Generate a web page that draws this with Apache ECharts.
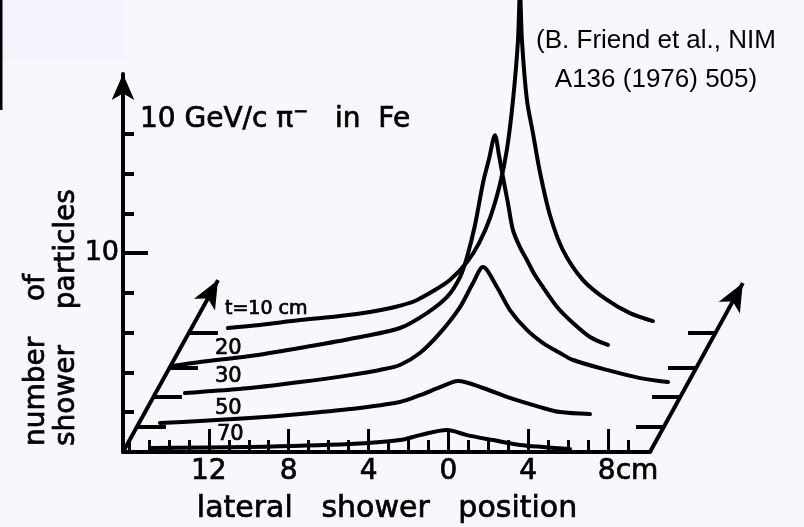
<!DOCTYPE html>
<html>
<head>
<meta charset="utf-8">
<script src="https://cdn.jsdelivr.net/npm/echarts@6/dist/echarts.min.js"></script>
<style>
  html, body { margin: 0; padding: 0; background: #f7f7fd; }
  #chart { width: 804px; height: 527px; }
</style>
</head>
<body>
<div id="chart"></div>
<script>
// ---------------- DATA ----------------
// depth in the iron (cm); one lateral profile per depth
const depths = ['10', '20', '30', '50', '70'];

// lateral shower position (cm) and number of shower particles, per depth
const lateral10 = [-14.35, -12.75, -10.74, -8.74, -7.24, -5.98, -4.98, -3.98, -3.23, -2.37, -1.77, -1.22, -0.72, -0.37, -0.07, 0.18, 0.28, 0.38, 0.63, 0.93, 1.28, 1.78, 2.43, 3.44, 4.64, 5.79, 6.94];
const count10   = [0.25, 0.40, 0.65, 0.85, 1.06, 1.31, 1.61, 2.16, 2.66, 3.57, 4.52, 5.78, 7.49, 9.25, 11.7, 14.7, 17.2, 14.7, 11.7, 10.05, 8.09, 5.93, 4.17, 2.66, 1.66, 1.0, 0.6];

const lateral20 = [-16.15, -14.75, -12.24, -9.74, -7.24, -4.73, -3.38, -2.37, -1.72, -1.37, -0.97, -0.57, -0.27, 0.03, 0.23, 0.43, 0.68, 0.93, 1.28, 1.63, 2.03, 2.43, 3.14, 3.94, 4.79, 5.69];
const count20   = [0.1, 0.3, 0.6, 1.01, 1.46, 2.01, 2.76, 3.57, 4.57, 5.58, 7.19, 9.3, 10.5, 11.7, 10.7, 9.6, 8.29, 6.93, 6.08, 5.43, 4.67, 4.07, 3.07, 2.26, 1.56, 1.16];

const lateral30 = [-14.7, -13.95, -11.44, -8.94, -6.43, -4.93, -3.93, -2.93, -1.92, -0.92, -0.27, 0.23, 0.93, 1.58, 2.43, 3.24, 4.09, 4.74, 6.44, 8.1, 9.5];
const count30   = [0.2, 0.25, 0.45, 0.75, 1.1, 1.36, 1.61, 2.21, 3.22, 4.52, 5.73, 6.53, 5.53, 4.37, 3.37, 2.71, 2.21, 1.86, 1.36, 0.95, 0.75];

const lateral50 = [-15.15, -13.15, -10.64, -8.14, -5.63, -3.13, -2.12, -1.12, -0.22, 1.03, 2.38, 3.89, 4.89, 6.39];
const count50   = [0.2, 0.3, 0.45, 0.65, 0.9, 1.26, 1.6, 2.0, 2.31, 1.96, 1.46, 1.0, 0.75, 0.65];

const lateral70 = [-14.95, -9.94, -4.93, -2.42, -1.42, -0.07, 0.93, 2.23, 3.59, 4.74, 6.09];
const count70   = [0.2, 0.25, 0.4, 0.6, 0.85, 1.1, 0.85, 0.6, 0.35, 0.25, 0.15];

const lateralTicks = [-12, -8, -4, 0, 4, 8];                 // labelled lateral positions
const lateralMinorTicks = [-16, -15, -14, -13, -11, -10, -9, -7, -6, -5, -3, -2, -1, 1, 2, 3, 5, 6, 7, 9];
const countTicks = [2, 4, 6, 8, 12, 14, 16];                 // short ticks on the vertical axis
const countLabels = [10];                                     // labelled count
const depthLabels = ['t=10 cm', '20', '30', '50', '70'];
const titleParts = ['10 GeV/c π', '−', '   in  Fe'];
const xName = 'lateral   shower   position';
const yName1 = 'number    of';
const yName2 = 'shower    particles';
const citation = ['(B. Friend et al., NIM', 'A136 (1976) 505)'];

// ---------------- LAYOUT ----------------
const profiles = [
  [lateral10, count10], [lateral20, count20], [lateral30, count30],
  [lateral50, count50], [lateral70, count70]
];
// pseudo-3D shift of each depth frame (px: right, up)
const frameShift = [[66, 119], [46, 84], [30, 55], [14, 25], [0, 0]];
const G = { left: 123, top: 74, width: 527, height: 378 };
const X_MIN = -16.3, X_MAX = 10.1, Y_MIN = 0, Y_MAX = 19;
const DEPTH_X_MAX = 16;   // range of the frame that carries the receding depth axes
const F = '"DejaVu Sans", sans-serif';
const INK = '#000';
const FRONT = depths.length - 1;
const BOLD = { textBorderColor: INK, textBorderWidth: 0.7 };

const grids = [], xAxes = [], yAxes = [], series = [];
profiles.forEach((p, k) => {
  const s = frameShift[k];
  const front = k === FRONT;
  grids.push({ left: G.left + s[0], top: G.top - s[1], width: G.width, height: G.height, outerBoundsMode: 'none' });
  xAxes.push({
    gridIndex: k, type: 'value', min: X_MIN, max: X_MAX, show: front, position: 'bottom',
    axisLine: { show: true, onZero: false, lineStyle: { color: INK, width: 4 } },
    axisTick: { show: true, inside: true, length: 23, customValues: lateralTicks, lineStyle: { color: INK, width: 3 } },
    splitLine: { show: false },
    axisLabel: Object.assign({
      show: true, customValues: lateralTicks, color: INK, fontFamily: F, fontSize: 28, margin: 6,
      formatter: v => (v === 8 ? '{p|}8cm' : String(Math.abs(v))),
      rich: { p: { width: 40 } }
    }, BOLD)
  });
  yAxes.push({
    gridIndex: k, type: 'value', min: Y_MIN, max: Y_MAX, show: front,
    axisLine: { show: true, onZero: false, symbol: ['none', 'arrow'], symbolSize: [17, 26],
                lineStyle: { color: INK, width: 4 } },
    axisTick: { show: true, inside: true, length: 11, customValues: countTicks,
                lineStyle: { color: INK, width: 4 } },
    splitLine: { show: false },
    axisLabel: Object.assign({ show: true, customValues: countLabels, color: INK, fontFamily: F,
                 fontSize: 27, margin: 4 }, BOLD)
  });

  const mlData = [];
  if (!front) {
    // depth ticks where this frame's baseline meets the two depth axes
    mlData.push([{ coord: [X_MIN, 0] }, { coord: [X_MIN + 1.45, 0] }]);
    mlData.push([{ coord: [X_MAX - 1.4, 0] }, { coord: [X_MAX, 0] }]);
  } else {
    // long tick at the labelled count
    mlData.push([{ coord: [X_MIN, 10] }, { coord: [X_MIN + 1.25, 10] }]);
  }

  series.push({
    type: 'line', name: 't=' + depths[k],
    xAxisIndex: k, yAxisIndex: k,
    data: p[0].map((x, i) => [x, p[1][i]]),
    showSymbol: false, symbol: 'none', smooth: 0.3, clip: false, silent: true,
    lineStyle: { color: INK, width: 4, cap: 'round', join: 'round' },
    markLine: {
      silent: true, symbol: ['none', 'none'], animation: false,
      label: { show: false },
      lineStyle: { color: INK, width: 4, type: 'solid' },
      emphasis: { disabled: true },
      data: mlData
    }
  });
});

// minor ticks of the lateral axis (front frame)
xAxes.push({
  gridIndex: FRONT, type: 'value', min: X_MIN, max: X_MAX, position: 'bottom',
  axisLine: { show: false }, splitLine: { show: false }, axisLabel: { show: false },
  axisTick: { show: true, inside: true, length: 12, customValues: lateralMinorTicks, lineStyle: { color: INK, width: 3 } }
});

// frame carrying the receding depth axes (same scale, wider range)
const depthGridIndex = grids.length;
grids.push({ left: G.left, top: G.top, height: G.height, outerBoundsMode: 'none',
             width: G.width * (DEPTH_X_MAX - X_MIN) / (X_MAX - X_MIN) });
const depthXIndex = xAxes.length;
xAxes.push({ gridIndex: depthGridIndex, type: 'value', min: X_MIN, max: DEPTH_X_MAX, show: false });
const depthYIndex = yAxes.length;
yAxes.push({ gridIndex: depthGridIndex, type: 'value', min: Y_MIN, max: Y_MAX, show: false });
const depthAxisTip = { left: [-11.54, 8.64], right: [14.75, 8.49] };
series.push({
  type: 'line', name: 'depth axes', xAxisIndex: depthXIndex, yAxisIndex: depthYIndex,
  data: [[X_MIN, 0]], showSymbol: false, symbol: 'none', silent: true, clip: false,
  lineStyle: { width: 0 },
  markLine: {
    silent: true, animation: false, symbol: ['none', 'arrow'], symbolSize: [18, 28],
    label: { show: false },
    lineStyle: { color: INK, width: 4, type: 'solid' },
    emphasis: { disabled: true },
    data: [
      [{ coord: [X_MIN, 0] }, { coord: depthAxisTip.left }],
      [{ coord: [X_MAX, 0] }, { coord: depthAxisTip.right }]
    ]
  }
});

function label(x, y, text, size, extra) {
  return { type: 'text', x: x, y: y, style: Object.assign({
    text: text, font: size + 'px ' + F, fill: INK, textVerticalAlign: 'middle',
    stroke: INK, lineWidth: 0.7 }, extra || {}) };
}

const chart = echarts.init(document.getElementById('chart'), null, { renderer: 'canvas' });
chart.setOption({
  backgroundColor: '#f7f7fd',
  animation: false,
  grid: grids, xAxis: xAxes, yAxis: yAxes, series: series,
  graphic: [
    { type: 'rect', z: -10, shape: { x: 0, y: 0, width: 124, height: 60 }, style: { fill: '#f4f4fc' } },
    { type: 'line', shape: { x1: 1, y1: 0, x2: 1, y2: 110 }, style: { stroke: INK, lineWidth: 3 } },
    { type: 'text', x: 140, y: 103, style: {
        text: '{a|' + titleParts[0] + '}{s|' + titleParts[1] + '}{a|' + titleParts[2] + '}',
        rich: { a: { fontFamily: F, fontSize: 28, fill: INK, stroke: INK, lineWidth: 0.7 },
                s: { fontFamily: F, fontSize: 18, fill: INK, stroke: INK, lineWidth: 0.7, verticalAlign: 'top', padding: [0, 0, 16, 0] } } } },
    { type: 'text', x: 656, y: 41, style: { text: citation[0], font: '26px "Liberation Sans", Arial, sans-serif', fill: INK, textAlign: 'center', textVerticalAlign: 'middle' } },
    { type: 'text', x: 656, y: 80, style: { text: citation[1], font: '26px "Liberation Sans", Arial, sans-serif', fill: INK, textAlign: 'center', textVerticalAlign: 'middle' } },
    label(387, 509, xName, 30, { textAlign: 'center' }),
    Object.assign(label(37, 446, yName1, 28, { textAlign: 'left' }), { rotation: Math.PI / 2 }),
    Object.assign(label(67, 446, yName2, 28, { textAlign: 'left' }), { rotation: Math.PI / 2 }),
    label(225, 309, depthLabels[0], 19),
    label(215, 349, depthLabels[1], 21),
    label(215, 377, depthLabels[2], 21),
    label(215, 409, depthLabels[3], 21),
    label(217, 435, depthLabels[4], 21)
  ]
});
</script>
</body>
</html>
